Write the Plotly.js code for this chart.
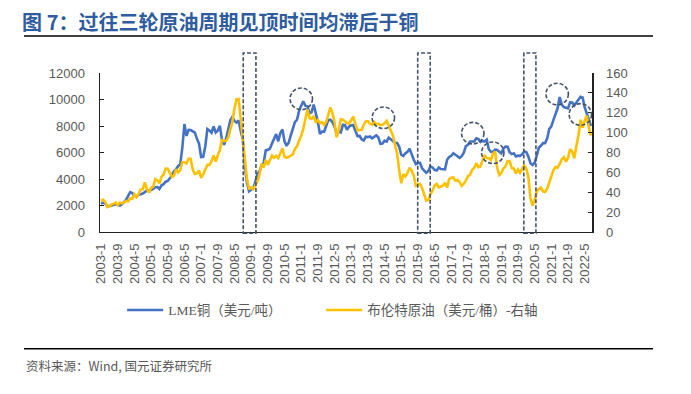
<!DOCTYPE html>
<html>
<head>
<meta charset="utf-8">
<script src="https://cdn.plot.ly/plotly-3.0.1.min.js"></script>
<style>
html,body{margin:0;padding:0;background:#fff;}
#chart{width:691px;height:394px;}
</style>
</head>
<body>
<div id="chart"></div>
<script>
// ---------- data (monthly, 2003-1 .. 2022-8) ----------
var startYear = 2003;
var copper2003 = [2150,2200,2150,1950,1950,2000,2050,2100,2050,2000,2100,2250];
var copper2004 = [2424,2730,3013,2948,2732,2686,2808,2853,2898,3008,3116,3144];
var copper2005 = [3170,3254,3379,3396,3249,3524,3614,3797,3857,4059,4269,4576];
var copper2006 = [4734,4982,5103,6387,8150,7250,7712,7692,7602,7500,7029,6675];
var copper2007 = [5650,5670,6452,7766,7662,7492,7968,7510,7651,8011,6966,6587];
var copper2008 = [7061,7888,8439,8685,8383,8260,8414,7633,6991,4926,3717,3072];
var copper2009 = [3221,3315,3751,4407,4569,5014,5216,6165,6196,6288,6676,6982];
var copper2010 = [7386,6848,7463,7745,6838,6499,6735,7284,7709,8292,8471,9147];
var copper2011 = [9533,9868,9530,9483,8960,9045,9619,9041,8315,7394,7581,7565];
var copper2012 = [8040,8441,8470,8289,7955,7423,7584,7515,8088,8062,7712,7966];
var copper2013 = [8047,8061,7645,7234,7250,7000,6907,7186,7159,7203,7071,7215];
var copper2014 = [7291,7149,6650,6674,6891,6821,7113,7002,6872,6737,6713,6446];
var copper2015 = [5831,5729,5940,6042,6295,5833,5457,5127,5217,5216,4800,4638];
var copper2016 = [4472,4599,4954,4873,4695,4642,4864,4751,4722,4731,5451,5660];
var copper2017 = [5755,5941,5825,5684,5600,5720,5985,6484,6579,6826,6807,6834];
var copper2018 = [7066,7006,6799,6873,6824,6965,6250,6051,6052,6220,6194,6073];
var copper2019 = [5939,6297,6439,6433,6014,5878,5941,5709,5759,5744,5857,6078];
var copper2020 = [6031,5687,5183,5058,5238,5754,6372,6500,6705,6706,7061,7772];
var copper2021 = [7970,8464,8988,9336,10184,9612,9433,9357,9324,9778,9765,9551];
var copper2022 = [9800,9950,10200,10150,9400,8950,8500,8000];

var brent2003 = [31.3,32.6,30.3,25.0,25.8,27.6,28.4,29.8,27.1,29.6,28.8,29.8];
var brent2004 = [31.2,30.9,33.8,33.4,37.9,35.2,38.2,42.7,43.2,49.8,43.1,39.6];
var brent2005 = [44.5,45.5,53.1,51.9,49.0,55.6,57.9,63.8,63.7,59.4,55.3,56.8];
var brent2006 = [63.1,59.9,62.3,70.4,70.2,68.9,73.9,73.6,62.8,58.4,58.9,62.0];
var brent2007 = [54.5,58.0,62.1,67.5,67.5,71.3,77.0,70.8,77.2,82.4,92.5,91.5];
var brent2008 = [91.9,94.8,103.3,110.4,124.6,133.5,133.9,113.8,99.1,72.8,53.2,43.0];
var brent2009 = [44.9,43.2,47.0,50.8,57.9,68.6,64.9,72.5,67.7,73.2,77.0,74.7];
var brent2010 = [76.4,74.3,79.3,84.2,75.6,74.7,75.6,77.1,78.2,83.5,86.1,92.0];
var brent2011 = [96.5,103.7,114.6,123.3,114.5,113.9,116.7,110.2,112.8,109.6,110.5,107.9];
var brent2012 = [110.7,119.3,125.4,119.8,110.3,95.2,102.6,113.4,113.0,111.5,109.5,109.2];
var brent2013 = [112.3,116.1,108.5,102.3,102.6,102.9,107.9,111.3,111.6,109.1,107.8,110.8];
var brent2014 = [108.1,108.9,107.5,107.8,109.5,111.8,106.8,101.6,97.1,87.4,79.4,62.3];
var brent2015 = [49.0,58.1,55.9,59.5,64.6,61.7,56.8,46.5,47.6,48.4,44.3,38.0];
var brent2016 = [31.5,32.2,38.2,41.6,46.7,48.3,44.9,45.8,46.6,49.5,44.7,53.3];
var brent2017 = [54.6,54.9,51.6,52.3,50.3,46.4,48.5,51.7,56.2,57.5,62.7,64.4];
var brent2018 = [69.1,65.3,66.0,72.1,76.9,74.4,74.3,72.5,78.9,81.0,64.8,57.4];
var brent2019 = [59.4,64.0,66.1,71.2,71.3,64.2,63.9,59.0,62.8,59.7,63.2,67.3];
var brent2020 = [63.6,55.0,33.7,26.6,32.4,40.8,43.2,44.7,40.9,40.2,43.6,50.0];
var brent2021 = [54.8,62.3,65.4,64.8,68.5,73.2,75.2,70.8,74.5,83.5,81.1,74.2];
var brent2022 = [86.5,97.1,113.0,105.0,112.0,117.0,105.0,97.0];

var copper = [].concat(copper2003,copper2004,copper2005,copper2006,copper2007,copper2008,copper2009,
  copper2010,copper2011,copper2012,copper2013,copper2014,copper2015,copper2016,copper2017,copper2018,
  copper2019,copper2020,copper2021,copper2022);
var brent = [].concat(brent2003,brent2004,brent2005,brent2006,brent2007,brent2008,brent2009,
  brent2010,brent2011,brent2012,brent2013,brent2014,brent2015,brent2016,brent2017,brent2018,
  brent2019,brent2020,brent2021,brent2022);

var months = [];
for (var i = 0; i < copper.length; i++) {
  months.push((startYear + Math.floor(i / 12)) + '-' + (i % 12 + 1));
}
var tickEvery = 8;
var tickLabels = months.filter(function(m, i){ return i % tickEvery === 0; });

var seriesNames = ['LME铜（美元/吨）', '布伦特原油（美元/桶）-右轴'];
var seriesColors = ['#4472C4', '#FFC000'];

// highlighted periods (month index ranges) and peak markers (month index, copper-axis value)
var periodBoxes = [[68.2, 74.3], [151.9, 157.9], [202.8, 208.6]];
var peakCircles = [[96.05, 10050], [135.4, 8620], [178.3, 7460], [187.9, 5980], [218.8, 10410], [229.9, 8870]];
var circleRx = 5.37, circleRy = 815;

// ---------- chart ----------
var N = months.length;
var dashCol = '#44546A';
var shapes = [];
periodBoxes.forEach(function(b){
  shapes.push({type:'rect', xref:'x domain', yref:'paper',
    x0:(b[0]+0.5)/N, x1:(b[1]+0.5)/N, y0:-0.008, y1:1.126,
    line:{color:dashCol, width:1.6, dash:'4px,2px'}, fillcolor:'rgba(0,0,0,0)'});
});
peakCircles.forEach(function(c){
  shapes.push({type:'circle', xref:'x', yref:'y',
    x0:c[0]-circleRx, x1:c[0]+circleRx, y0:c[1]-circleRy, y1:c[1]+circleRy,
    line:{color:dashCol, width:1.6, dash:'4px,2px'}, fillcolor:'rgba(0,0,0,0)'});
});
// title rule and source rule
shapes.push({type:'line', xref:'paper', yref:'paper', x0:-0.1545, x1:1.124, y0:1.2327, y1:1.2327,
  line:{color:'#000', width:1.5}});
shapes.push({type:'line', xref:'paper', yref:'paper', x0:-0.1545, x1:1.124, y0:-0.7346, y1:-0.7346,
  line:{color:'#000', width:1.5}});

var tickFont = {family:'Liberation Sans, Arial, sans-serif', size:13, color:'#595959'};
var legendFont = {family:'Liberation Serif, Noto Sans CJK SC, serif', size:13.5, color:'#595959'};

var data = [
  {x:months, y:copper, type:'scatter', mode:'lines', name:seriesNames[0],
   line:{color:seriesColors[0], width:2.6}, yaxis:'y', legend:'legend'},
  {x:months, y:brent, type:'scatter', mode:'lines', name:seriesNames[1],
   line:{color:seriesColors[1], width:2.6}, yaxis:'y2', legend:'legend2'}
];

var layout = {
  width:691, height:394,
  margin:{l:100, r:99, t:73, b:162, pad:0},
  paper_bgcolor:'#fff', plot_bgcolor:'#fff',
  showlegend:true,
  title:{text:'图 7：过往三轮原油周期见顶时间均滞后于铜', xref:'container', yref:'container',
    x:0.032, xanchor:'left', y:0.942, yanchor:'middle',
    font:{family:'Noto Sans CJK SC, sans-serif', size:20, color:'#2E5C9E', weight:'bold'}},
  xaxis:{type:'category', range:[-0.5, N-0.5], tickmode:'array', tickvals:tickLabels, ticktext:tickLabels,
    tickangle:-90, tickfont:tickFont, showgrid:false, zeroline:false,
    showline:true, linecolor:'#222', linewidth:1.3, ticks:'', ticklabelstandoff:5},
  yaxis:{range:[0,12000], dtick:2000, tick0:0, tickfont:tickFont, showgrid:false, zeroline:false,
    showline:true, linecolor:'#222', linewidth:1.5, ticks:'inside', ticklen:4, tickcolor:'#222',
    ticklabelstandoff:11, tickformat:'d'},
  yaxis2:{range:[0,160], dtick:20, tick0:0, overlaying:'y', side:'right', tickfont:tickFont,
    showgrid:false, zeroline:false, showline:true, linecolor:'#222', linewidth:1.5,
    ticks:'inside', ticklen:4, tickcolor:'#222', ticklabelstandoff:10},
  legend:{orientation:'h', x:0.045, xanchor:'left', y:-0.492, yanchor:'middle',
    font:legendFont, itemwidth:36, bgcolor:'rgba(0,0,0,0)'},
  legend2:{orientation:'h', x:0.4495, xanchor:'left', y:-0.492, yanchor:'middle',
    font:legendFont, itemwidth:36, bgcolor:'rgba(0,0,0,0)'},
  shapes:shapes,
  annotations:[
    {text:'资料来源：Wind, 国元证券研究所', xref:'paper', yref:'paper', x:-0.1545, y:-0.838,
     xanchor:'left', yanchor:'middle', showarrow:false,
     font:{family:'Noto Sans CJK SC, sans-serif', size:12.5, color:'#595959'}}
  ]
};

Plotly.newPlot('chart', data, layout, {displayModeBar:false, staticPlot:true});
</script>
</body>
</html>
